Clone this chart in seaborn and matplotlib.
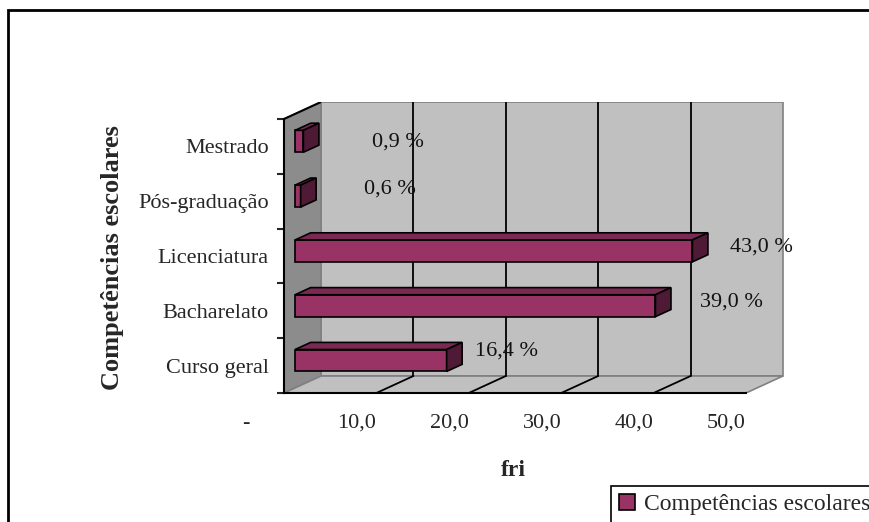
import matplotlib
matplotlib.use("Agg")
import matplotlib.pyplot as plt
import seaborn as sns
import pandas as pd
from matplotlib.patches import Polygon, Rectangle
from matplotlib.ticker import FixedLocator
from matplotlib.transforms import Affine2D

# ---- data ----
categories = ["Mestrado", "Pós-graduação", "Licenciatura", "Bacharelato", "Curso geral"]
values = [0.9, 0.6, 43.0, 39.0, 16.4]
x_ticks = [0, 10, 20, 30, 40, 50]
x_tick_labels = ["-      ", "10,0", "20,0", "30,0", "40,0", "50,0"]
series_name = "Competências escolares"
y_title = "Competências escolares"
x_title = "fri"

# ---- style ----
sns.set_style("white")
plt.rcParams["font.family"] = ["Liberation Serif", "DejaVu Serif"]

BAR_FRONT = "#993366"
BAR_TOP = "#7A2952"
BAR_SIDE = "#4F1A35"
WALL = "#C0C0C0"
SIDE_WALL = "#8C8C8C"
EDGE = "#808080"
FS = 16

# label placement relative to each bar end (x in data units, y in category units)
label_dx = [11.4, 10.9, 8.7, 9.4, 7.7]
label_dy = [-0.08, -0.22, -0.16, -0.16, -0.27]

W, H = 869, 522
fig = plt.figure(figsize=(W / 100, H / 100), dpi=100)

# box depth in data units and bar depth span
DX, DY = 4.0, 0.31
XMAX = 50
Y0, Y1 = -0.5, 4.5
F0, F1 = 0.3, 0.72
BAR_W = 0.4

left_px, right_px = 284, 786
top_px, bottom_px = 102, 393
ax = fig.add_axes([left_px / W, 1 - bottom_px / H,
                   (right_px - left_px) / W, (bottom_px - top_px) / H])
ax.patch.set_alpha(0)

df = pd.DataFrame({"categoria": categories, "fri": values})
sns.barplot(data=df, x="fri", y="categoria", order=categories, orient="h",
            width=BAR_W, color=BAR_FRONT, saturation=1, edgecolor="black",
            linewidth=1.2, ax=ax, zorder=5)
bars = list(ax.patches)

ax.set_xlim(0, (right_px - left_px) / 9.24)
ax.set_ylim(Y1, Y1 - (bottom_px - top_px) / 54.8)

# walls and floor
ax.add_patch(Rectangle((DX, Y0 - DY), XMAX, Y1 - Y0, fc=WALL, ec=EDGE, lw=1.2, zorder=0))
ax.add_patch(Polygon([(0, Y1), (0, Y0), (DX, Y0 - DY), (DX, Y1 - DY)],
                     closed=True, fc=SIDE_WALL, ec=EDGE, lw=1.2, zorder=1))
ax.add_patch(Polygon([(0, Y1), (XMAX, Y1), (XMAX + DX, Y1 - DY), (DX, Y1 - DY)],
                     closed=True, fc=WALL, ec=EDGE, lw=1.2, zorder=1))
ax.plot([0, DX], [Y0, Y0 - DY], color="black", lw=1.5, zorder=2, solid_capstyle="butt")

# gridlines on back wall and floor
for t in x_ticks[1:-1]:
    ax.plot([t + DX, t + DX], [Y0 - DY, Y1 - DY], color="black", lw=1.3, zorder=2)
    ax.plot([t, t + DX], [Y1, Y1 - DY], color="black", lw=1.3, zorder=2)

# bar depth: shift front faces back and add top/side faces
sx, sy = F0 * DX, -F0 * DY
ddx, ddy = (F1 - F0) * DX, (F1 - F0) * DY
shift = Affine2D().translate(sx, sy) + ax.transData
for p in bars:
    p.set_transform(shift)
    x0, w, y, h = p.get_x(), p.get_width(), p.get_y(), p.get_height()
    x1 = x0 + w + sx
    yt = y + sy
    ax.add_patch(Polygon([(x0 + sx, yt), (x1, yt), (x1 + ddx, yt - ddy), (x0 + sx + ddx, yt - ddy)],
                         closed=True, fc=BAR_TOP, ec="black", lw=1.2, zorder=5))
    ax.add_patch(Polygon([(x1, yt), (x1, yt + h), (x1 + ddx, yt + h - ddy), (x1 + ddx, yt - ddy)],
                         closed=True, fc=BAR_SIDE, ec="black", lw=1.2, zorder=5))

# value labels
for i, v in enumerate(values):
    txt = f"{v:.1f}".replace(".", ",") + " %"
    ax.text(v + label_dx[i], i + label_dy[i], txt, ha="center", va="center",
            fontsize=FS, color="#111111", zorder=6)

# axes
for s in ["top", "right"]:
    ax.spines[s].set_visible(False)
for s in ["bottom", "left"]:
    ax.spines[s].set_color("black")
    ax.spines[s].set_linewidth(1.5)
    ax.spines[s].set_zorder(3)
ax.spines["bottom"].set_bounds(0, XMAX)
ax.spines["left"].set_bounds(Y0, Y1)

ax.set_xticks(x_ticks, x_tick_labels)
ax.set_yticks(range(len(categories)), categories)
ax.yaxis.set_minor_locator(FixedLocator([Y0 + k for k in range(len(categories) + 1)]))
ax.tick_params(axis="x", direction="out", length=5, width=1.5, pad=10, labelsize=FS)
ax.tick_params(axis="y", which="major", length=0, pad=11, labelsize=FS)
ax.tick_params(axis="y", which="minor", direction="out", length=5, width=1.5, left=True)
for lbl in ax.get_xticklabels():
    lbl.set_ha("right")
ax.set_xlabel("")
ax.set_ylabel("")

fig.text(513 / W, 1 - 470 / H, x_title, ha="center", va="center",
         fontsize=17, fontweight="bold")
fig.text(112 / W, 1 - 258 / H, y_title, ha="center", va="center", rotation=90,
         fontsize=19, fontweight="bold")

# legend
handle = Rectangle((0, 0), 1, 1, fc=BAR_FRONT, ec="black", lw=1.2)
leg = fig.legend([handle], [series_name], loc="upper left",
                 bbox_to_anchor=(611 / W, 1 - 486 / H), frameon=True, fancybox=False,
                 edgecolor="black", framealpha=1, handlelength=0.65, handleheight=0.65,
                 borderaxespad=0, borderpad=0.35, handletextpad=0.4, fontsize=17)
leg.get_frame().set_linewidth(1.2)

# chart area border
fig.add_artist(Rectangle((8 / W, -0.05), 1.2, (H - 10) / H + 0.05,
                         transform=fig.transFigure, fill=False, ec="black", lw=2))

fig.savefig("out.png", dpi=100)
